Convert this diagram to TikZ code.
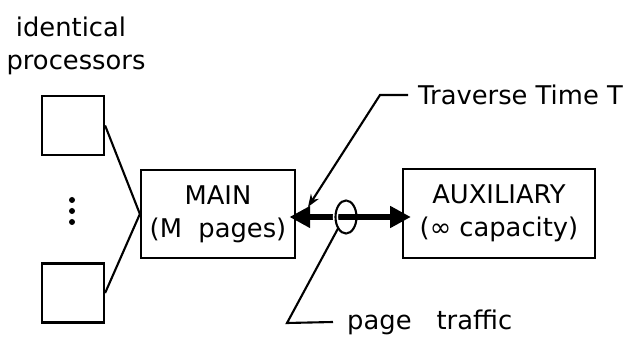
\documentclass[tikz,border=0pt]{standalone}
\usepackage{fontspec}
\setmainfont{DejaVu Sans}
\usetikzlibrary{arrows.meta, shapes.geometric}

\tikzset{
  procbox/.style={draw=black, line width=1.9pt, minimum width=1.86cm, minimum height=1.77cm},
  membox/.style={draw=black, line width=1.9pt, align=center, minimum height=2.65cm,
    font=\fontsize{22}{28}\selectfont},
  lbl/.style={font=\fontsize{22}{26}\selectfont},
  leader/.style={draw=black, line width=1.8pt},
}

\begin{document}
\begin{tikzpicture}[x=0.03cm, y=-0.03cm]
      \useasboundingbox (0,0) rectangle (636,344);

      % processors
      \node[lbl] (idlabel) at (71,27) {identical};
      \node[lbl] (proclabel) at (76,65) {processors};
      \node[procbox] (proc1) at (73,125.5) {};
      \node[procbox] (procn) at (73,293) {};
      \fill (72,200) circle (0.09cm) (72,211) circle (0.09cm) (72,222) circle (0.09cm);

      % memories
      \node[membox, minimum width=4.62cm] (main) at (218,214) {MAIN\\(M~~pages)};
      \node[membox, minimum width=5.76cm] (aux) at (499,213.5) {AUXILIARY\\(∞ capacity)};

      \draw[leader] (proc1.east) -- (main.west);
      \draw[leader] (procn.east) -- (main.west);

      % page traffic channel
      \node[ellipse, draw=black, line width=1.8pt, inner sep=0pt, outer sep=0pt,
            minimum width=0.63cm, minimum height=0.99cm] (loop) at (346,217) {};
      \draw[line width=5pt, shorten <=-0.2cm, shorten >=-0.27cm,
            {Triangle[length=0.62cm, width=0.62cm]}-{Triangle[length=0.62cm, width=0.62cm]}]
        (main.east |- loop.center) -- (aux.west |- loop.center);
      \draw[white, line width=4.5pt] (loop.north) arc[start angle=90, end angle=270, x radius=0.315cm, y radius=0.495cm];
      \draw[black, line width=1.8pt] (loop.north) arc[start angle=90, end angle=270, x radius=0.315cm, y radius=0.495cm];

      % labels
      \node[lbl, anchor=west, inner xsep=0.3cm] (trav) at (408,95) {Traverse Time T};
      \coordinate (travbend) at (380,95);
      \coordinate (travtip) at (308,207);
      \draw[leader, -{Stealth[length=0.38cm, width=0.28cm]}] (trav.west) -- (travbend) -- (travtip);

      \node[lbl, anchor=west, inner xsep=0.42cm] (traffic) at (333,322) {page\hspace{0.75cm}traffic};
      \coordinate (trafbend) at (287,323);
      \draw[leader] (traffic.west) -- (trafbend) -- (loop.235);
\end{tikzpicture}
\end{document}
